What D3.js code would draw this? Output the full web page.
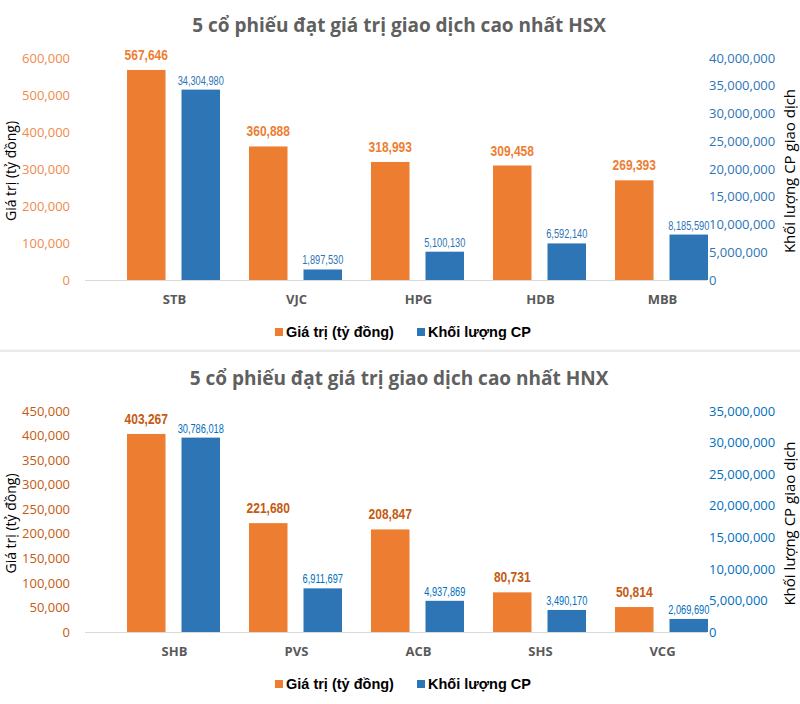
<!DOCTYPE html>
<html>
<head>
<meta charset="utf-8">
<script src="https://cdn.jsdelivr.net/npm/d3@7"></script>
<style>
  html, body { margin: 0; padding: 0; background: #fff; }
  svg { display: block; }
</style>
</head>
<body>
<svg id="chart" width="800" height="704"></svg>
<script>
// ---------- DATA ----------
const hsxTitle = "5 cổ phiếu đạt giá trị giao dịch cao nhất HSX";
const hsxCategories = ["STB", "VJC", "HPG", "HDB", "MBB"];
const hsxValue = [567646, 360888, 318993, 309458, 269393];
const hsxVolume = [34304980, 1897530, 5100130, 6592140, 8185590];
const hsxValueTicks = [0, 100000, 200000, 300000, 400000, 500000, 600000];
const hsxVolumeTicks = [0, 5000000, 10000000, 15000000, 20000000, 25000000, 30000000, 35000000, 40000000];

const hnxTitle = "5 cổ phiếu đạt giá trị giao dịch cao nhất HNX";
const hnxCategories = ["SHB", "PVS", "ACB", "SHS", "VCG"];
const hnxValue = [403267, 221680, 208847, 80731, 50814];
const hnxVolume = [30786018, 6911697, 4937869, 3490170, 2069690];
const hnxValueTicks = [0, 50000, 100000, 150000, 200000, 250000, 300000, 350000, 400000, 450000];
const hnxVolumeTicks = [0, 5000000, 10000000, 15000000, 20000000, 25000000, 30000000, 35000000];

const seriesNames = ["Giá trị (tỷ đồng)", "Khối lượng CP"];
const leftAxisTitle = "Giá trị (tỷ đồng)";
const rightAxisTitle = "Khối lượng CP giao dịch";

// ---------- DRAW ----------
const svg = d3.select("#chart");
const fmt = d3.format(",");
const ORANGE = "#ED7D31", BLUE = "#2E75B6";
const tickFont = "'Open Sans', 'Noto Sans', sans-serif";
const narrowFont = "'Liberation Sans', Arial, sans-serif";

function drawChart(g, cfg) {
  const { title, categories, values, volumes, valueTicks, volumeTicks,
          top, bottom, leftTickColor, rightTickColor, valueLabelColor, volumeLabelColor } = cfg;

  const yL = d3.scaleLinear().domain([0, d3.max(valueTicks)]).range([bottom, top]);
  const yR = d3.scaleLinear().domain([0, d3.max(volumeTicks)]).range([bottom, top]);
  const x = d3.scaleBand().domain(categories).range([112.5, 722.5]).paddingInner(0).paddingOuter(0);
  const barW = 38.5, gap = 16;

  // title
  g.append("text")
    .attr("x", 399).attr("y", top - 26)
    .attr("text-anchor", "middle")
    .attr("font-family", tickFont).attr("font-weight", 700)
    .attr("font-size", 19).attr("fill", "#606060")
    .text(title);

  // left axis ticks
  const axL = d3.axisLeft(yL).tickValues(valueTicks).tickFormat(fmt).tickSize(0).tickPadding(0);
  const gL = g.append("g").attr("transform", "translate(70,0)").call(axL);
  gL.select(".domain").remove();
  gL.selectAll("text").attr("fill", leftTickColor).attr("font-family", tickFont).attr("font-size", 13);

  // right axis ticks
  const axR = d3.axisRight(yR).tickValues(volumeTicks).tickFormat(fmt).tickSize(0).tickPadding(0);
  const gR = g.append("g").attr("transform", "translate(709,0)").call(axR);
  gR.select(".domain").remove();
  gR.selectAll("text").attr("fill", rightTickColor).attr("font-family", tickFont).attr("font-size", 13);

  // baseline
  g.append("line")
    .attr("x1", 85).attr("x2", 707)
    .attr("y1", yL(0) + 0.5).attr("y2", yL(0) + 0.5)
    .attr("stroke", "#d9d9d9").attr("stroke-width", 1);

  const groupW = barW * 2 + gap;
  const ox = c => x(c) + x.bandwidth() / 2 - groupW / 2;

  // orange bars
  g.selectAll(".vbar").data(categories).join("rect")
    .attr("x", c => ox(c))
    .attr("y", (c, i) => yL(values[i]))
    .attr("width", barW)
    .attr("height", (c, i) => yL(0) - yL(values[i]))
    .attr("fill", ORANGE);

  // blue bars
  g.selectAll(".kbar").data(categories).join("rect")
    .attr("x", c => ox(c) + barW + gap)
    .attr("y", (c, i) => yR(volumes[i]))
    .attr("width", barW)
    .attr("height", (c, i) => yR(0) - yR(volumes[i]))
    .attr("fill", BLUE);

  // value labels (condensed)
  g.selectAll(".vlab").data(categories).join("text")
    .attr("transform", (c, i) => `translate(${ox(c) + barW / 2},${yL(values[i]) - 10}) scale(0.8,1)`)
    .attr("text-anchor", "middle")
    .attr("font-family", narrowFont).attr("font-weight", 700)
    .attr("font-size", 15).attr("fill", valueLabelColor)
    .text((c, i) => fmt(values[i]));

  g.selectAll(".klab").data(categories).join("text")
    .attr("transform", (c, i) => `translate(${ox(c) + barW + gap + barW / 2},${yR(volumes[i]) - 5}) scale(0.77,1)`)
    .attr("text-anchor", "middle")
    .attr("font-family", narrowFont)
    .attr("font-size", 12).attr("fill", volumeLabelColor)
    .text((c, i) => fmt(volumes[i]));

  // category labels
  g.selectAll(".clab").data(categories).join("text")
    .attr("x", c => x(c) + x.bandwidth() / 2 + 1)
    .attr("y", bottom + 24)
    .attr("text-anchor", "middle")
    .attr("font-family", tickFont).attr("font-weight", 700)
    .attr("font-size", 13).attr("fill", "#595959")
    .text(c => c);

  // axis titles
  const mid = (top + bottom) / 2 + 2;
  g.append("text")
    .attr("transform", `translate(16,${mid}) rotate(-90)`)
    .attr("text-anchor", "middle")
    .attr("font-family", tickFont).attr("font-size", 14).attr("fill", "#000")
    .text(leftAxisTitle);
  g.append("text")
    .attr("transform", `translate(795,${mid}) rotate(-90)`)
    .attr("text-anchor", "middle")
    .attr("font-family", tickFont).attr("font-size", 15).attr("fill", "#000")
    .text(rightAxisTitle);

  // legend
  const ly = bottom + 52;
  const leg = [{ x: 275, c: ORANGE, t: seriesNames[0] }, { x: 417, c: BLUE, t: seriesNames[1] }];
  leg.forEach(d => {
    g.append("rect").attr("x", d.x).attr("y", ly - 4).attr("width", 8).attr("height", 8).attr("fill", d.c);
    g.append("text").attr("x", d.x + 11).attr("y", ly + 5)
      .attr("font-family", "'Liberation Sans', Arial, sans-serif").attr("font-weight", 700)
      .attr("font-size", 14.5).attr("fill", "#000").text(d.t);
  });
}

drawChart(svg.append("g"), {
  title: hsxTitle, categories: hsxCategories, values: hsxValue, volumes: hsxVolume,
  valueTicks: hsxValueTicks, volumeTicks: hsxVolumeTicks,
  top: 58, bottom: 280,
  leftTickColor: "#F08A4B", rightTickColor: "#2E75B6",
  valueLabelColor: "#ED7D31", volumeLabelColor: "#2E75B6"
});

// separator
svg.append("rect").attr("x", 0).attr("y", 349.5).attr("width", 800).attr("height", 2.5).attr("fill", "#ebebeb");

drawChart(svg.append("g"), {
  title: hnxTitle, categories: hnxCategories, values: hnxValue, volumes: hnxVolume,
  valueTicks: hnxValueTicks, volumeTicks: hnxVolumeTicks,
  top: 411, bottom: 632,
  leftTickColor: "#C55A11", rightTickColor: "#0070C0",
  valueLabelColor: "#C55A11", volumeLabelColor: "#0070C0"
});
</script>
</body>
</html>
